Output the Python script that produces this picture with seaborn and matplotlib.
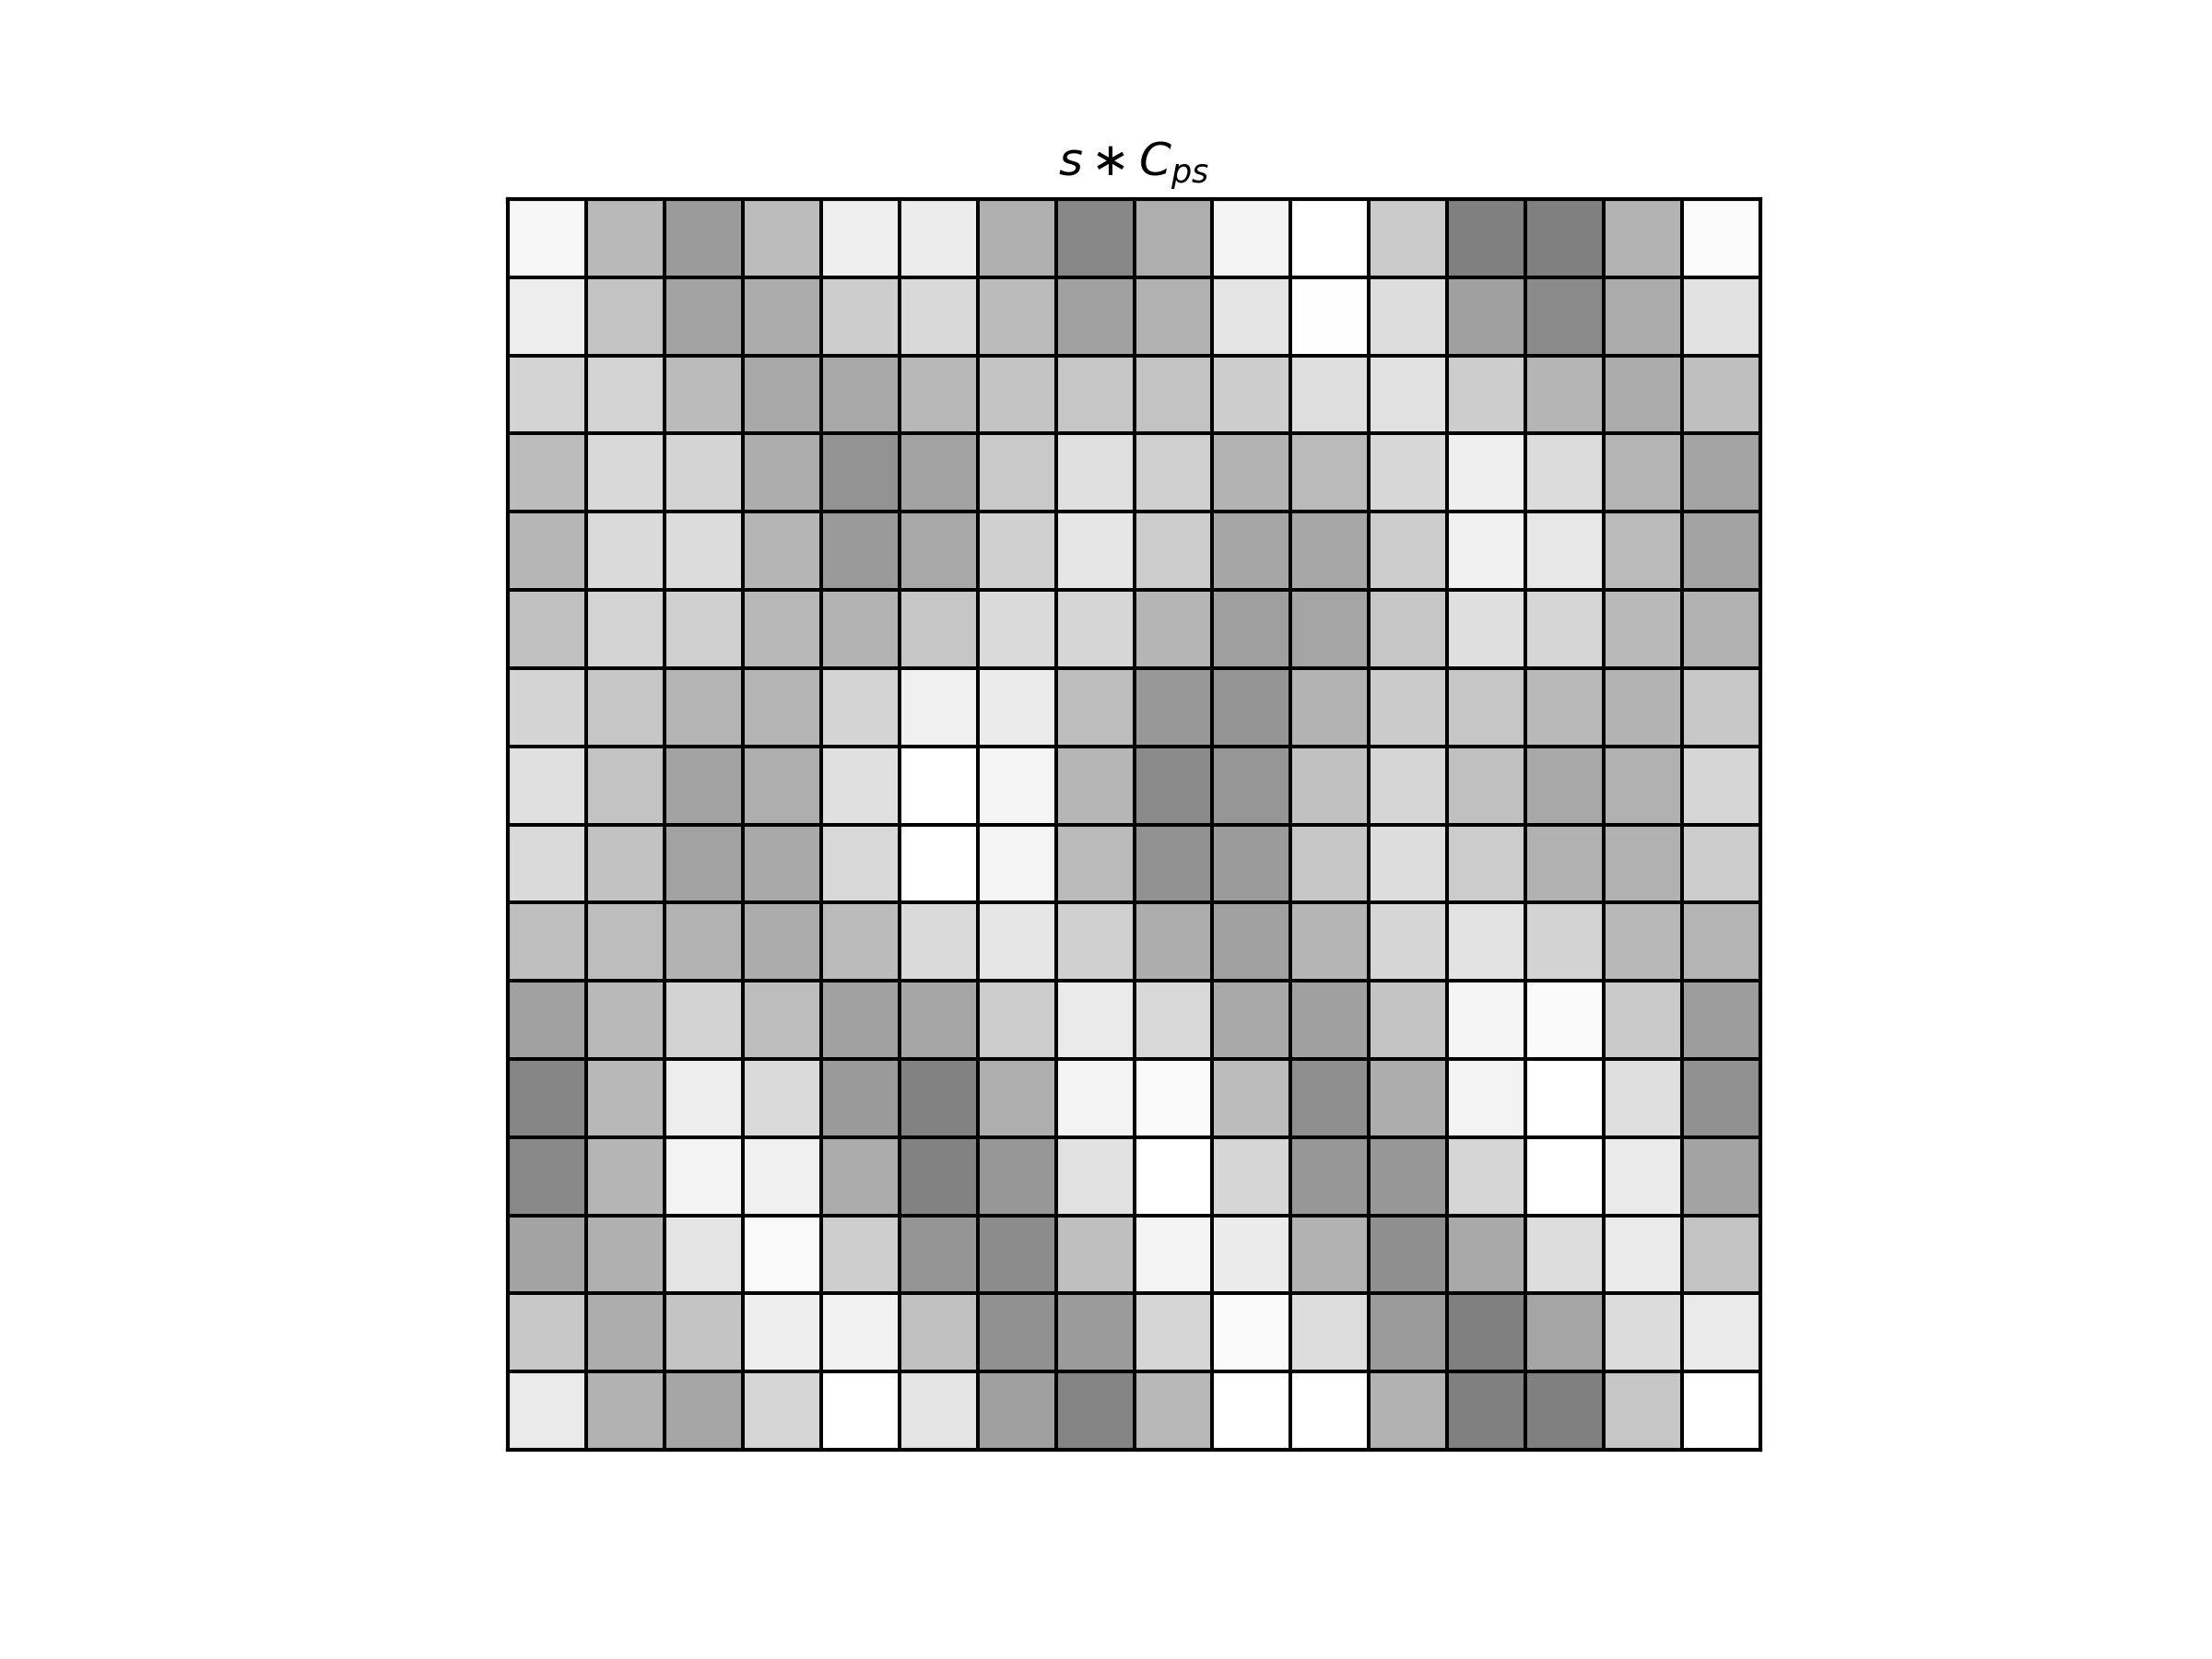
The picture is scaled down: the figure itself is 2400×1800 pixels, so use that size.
import numpy as np
import matplotlib
matplotlib.use("Agg")
import matplotlib.pyplot as plt
import seaborn as sns

# gray level of each cell (0 = black, 255 = white)
row00 = [0xf7, 0xb9, 0x9b, 0xbc, 0xef, 0xec, 0xb0, 0x88, 0xae, 0xf4, 0xff, 0xcb, 0x80, 0x80, 0xb3, 0xfb]
row01 = [0xed, 0xc3, 0xa3, 0xac, 0xcd, 0xd9, 0xbb, 0xa1, 0xb1, 0xe4, 0xfe, 0xdd, 0xa0, 0x8a, 0xab, 0xe2]
row02 = [0xd4, 0xd4, 0xbb, 0xa8, 0xa8, 0xb7, 0xc4, 0xc6, 0xc3, 0xcd, 0xde, 0xe1, 0xcd, 0xb5, 0xac, 0xbf]
row03 = [0xbc, 0xd9, 0xd4, 0xad, 0x93, 0xa2, 0xc9, 0xe0, 0xd0, 0xb3, 0xba, 0xd7, 0xef, 0xdc, 0xb4, 0xa4]
row04 = [0xb6, 0xda, 0xdc, 0xb5, 0x9a, 0xa8, 0xd0, 0xe6, 0xcc, 0xa6, 0xa7, 0xcc, 0xf1, 0xe7, 0xba, 0xa3]
row05 = [0xc0, 0xd4, 0xcf, 0xb8, 0xb3, 0xc6, 0xda, 0xd6, 0xb5, 0x9f, 0xa5, 0xc6, 0xdf, 0xd6, 0xb9, 0xb1]
row06 = [0xd4, 0xc6, 0xb4, 0xb4, 0xd4, 0xf0, 0xeb, 0xbd, 0x98, 0x95, 0xb3, 0xcb, 0xc6, 0xb9, 0xb3, 0xc8]
row07 = [0xe0, 0xc3, 0xa3, 0xae, 0xe0, 0xff, 0xf5, 0xb6, 0x8b, 0x96, 0xc1, 0xd6, 0xc0, 0xa8, 0xb1, 0xd6]
row08 = [0xda, 0xc2, 0xa2, 0xa9, 0xd8, 0xff, 0xf5, 0xbb, 0x92, 0x9b, 0xc6, 0xdd, 0xcc, 0xb1, 0xb1, 0xcc]
row09 = [0xbf, 0xbd, 0xb3, 0xac, 0xbb, 0xda, 0xe6, 0xd0, 0xad, 0xa1, 0xb5, 0xd6, 0xe3, 0xd3, 0xb8, 0xb4]
row10 = [0xa1, 0xb9, 0xd3, 0xbd, 0xa1, 0xa6, 0xcc, 0xea, 0xd8, 0xa9, 0xa0, 0xc4, 0xf5, 0xfa, 0xc9, 0x9d]
row11 = [0x86, 0xb8, 0xed, 0xda, 0x9a, 0x82, 0xae, 0xf3, 0xfa, 0xbc, 0x8f, 0xad, 0xf3, 0xff, 0xde, 0x91]
row12 = [0x89, 0xb5, 0xf3, 0xf0, 0xab, 0x82, 0x97, 0xe1, 0xff, 0xd6, 0x97, 0x97, 0xd6, 0xff, 0xea, 0xa3]
row13 = [0xa3, 0xb0, 0xe4, 0xf9, 0xce, 0x95, 0x8c, 0xbf, 0xf4, 0xeb, 0xb2, 0x8f, 0xa9, 0xdd, 0xea, 0xc3]
row14 = [0xc8, 0xad, 0xc4, 0xee, 0xf2, 0xc0, 0x91, 0x9b, 0xd5, 0xfa, 0xdd, 0x9b, 0x80, 0xa5, 0xdc, 0xea]
row15 = [0xea, 0xb2, 0xa6, 0xd6, 0xff, 0xe4, 0xa0, 0x84, 0xb8, 0xff, 0xff, 0xb2, 0x80, 0x80, 0xc6, 0xff]

data = np.array([row00, row01, row02, row03, row04, row05, row06, row07,
                 row08, row09, row10, row11, row12, row13, row14, row15], dtype=float)

fig = plt.figure(figsize=(8, 6), dpi=300)
ax = fig.add_axes([551 / 2400, 1 - 1573 / 1800, 1359 / 2400, 1357 / 1800])
sns.heatmap(data, cmap="gray", vmin=0, vmax=255, cbar=False,
            linewidths=0.5, linecolor="black", xticklabels=False,
            yticklabels=False, ax=ax)
for sp in ax.spines.values():
    sp.set_visible(True)
    sp.set_color("black")
    sp.set_linewidth(1.0)
ax.set_title(r"$s \ast C_{ps}$", fontsize=12)
fig.savefig("out.png", dpi=300)
